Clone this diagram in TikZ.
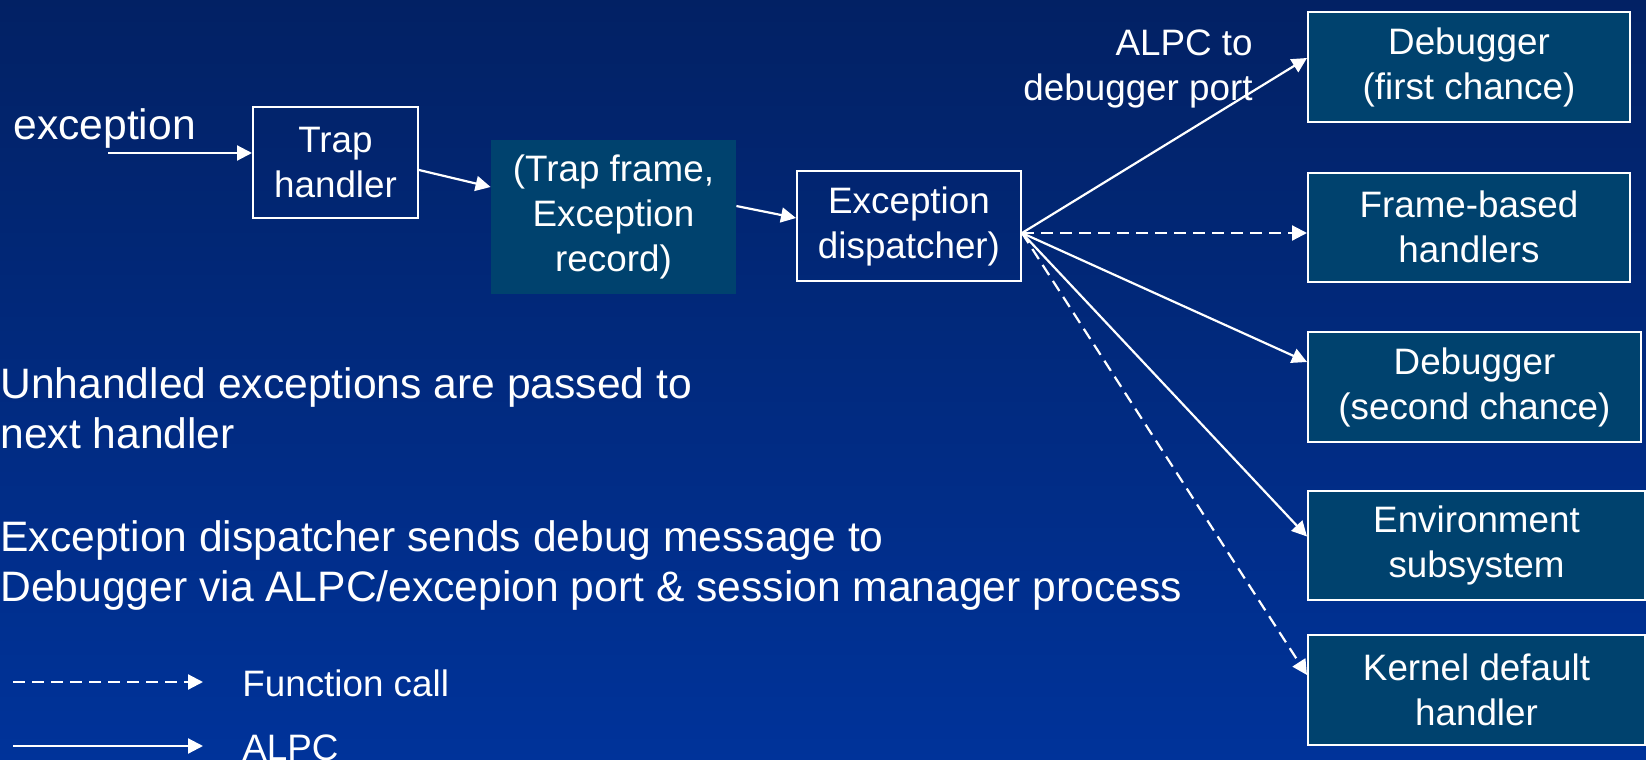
\documentclass[tikz,border=0pt]{standalone}
\usepackage{fontspec}
\setmainfont{Liberation Sans}
\usetikzlibrary{arrows.meta,calc}

\definecolor{bgtop}{RGB}{2,33,100}
\definecolor{bgbottom}{RGB}{0,51,154}
\definecolor{boxfill}{RGB}{0,66,110}

\tikzset{
  bodytext/.style={text=white, inner sep=0pt, font=\fontsize{21.3}{25}\selectfont},
  boxtext/.style={text=white, align=center, inner sep=0pt, font=\fontsize{18.4}{22.5}\selectfont},
  plainbox/.style={boxtext, draw=white, line width=1pt},
  solidbox/.style={boxtext, fill=boxfill, draw=white, line width=1pt},
  nobordbox/.style={boxtext, fill=boxfill},
  link/.style={draw=white, line width=1.1pt, -{Triangle[length=7.5pt,width=7.5pt]}},
  calllink/.style={link, dash pattern=on 6pt off 3.5pt},
}

\begin{document}
\begin{tikzpicture}[x=0.5pt, y=-0.5pt]
  % background
  \shade[top color=bgtop, bottom color=bgbottom] (0,0) rectangle (1646,760);
  \useasboundingbox (0,0) rectangle (1646,760);

  % flow along the top
  \node[bodytext, anchor=base west] (exc) at (13,139) {exception};
  \coordinate (excstart) at (108,153);

  \node[plainbox, minimum width=82.5pt, minimum height=55.5pt] (trap) at (335.5,162.5) {Trap\\handler};
  \node[nobordbox, minimum width=122.5pt, minimum height=77pt] (frame) at (613.5,217) {(Trap frame,\\Exception\\record)};
  \node[plainbox, minimum width=112pt, minimum height=55pt] (disp) at (909,226) {Exception\\dispatcher)};

  % handlers on the right
  \node[solidbox, minimum width=161pt, minimum height=55pt] (first) at (1469,67) {Debugger\\(first chance)};
  \node[solidbox, minimum width=161pt, minimum height=54.5pt] (fbased) at (1469,227) {Frame-based\\handlers};
  \node[solidbox, minimum width=166.5pt, minimum height=55pt] (second) at (1474.5,387) {Debugger\\(second chance)};
  \node[solidbox, minimum width=168.5pt, minimum height=54.5pt] (env) at (1476.5,545.5) {Environment\\subsystem};
  \node[solidbox, minimum width=168.5pt, minimum height=55pt] (kernel) at (1476.5,690) {Kernel default\\handler};

  \node[boxtext, align=right, anchor=base east] (alpclbl) at (1253,100) {ALPC to\\debugger port};

  % connectors
  \draw[link] (excstart) -- ($(trap.west)+(0,-9.5)$);
  \draw[link] ($(trap.east)+(0,7.5)$) -- ($(frame.west)+(0,-30)$);
  \draw[link] ($(frame.east)+(0,-11)$) -- ($(disp.west)+(0,-8)$);

  \coordinate (fan) at ($(disp.east)+(0,7)$);
  \draw[link] (fan) -- ($(first.west)+(0,-9)$);
  \draw[calllink] (fan) -- ($(fbased.west)+(0,6)$);
  \draw[link] (fan) -- ($(second.west)+(0,-25)$);
  \draw[link] (fan) -- ($(env.west)+(0,-9)$);
  \draw[calllink] (fan) -- ($(kernel.west)+(0,-15)$);

  % notes
  \node[bodytext, anchor=base west, align=left] (note1) at (0,448) {Unhandled exceptions are passed to\\next handler};
  \node[bodytext, anchor=base west, align=left] (note2) at (0,601) {Exception dispatcher sends debug message to\\Debugger via ALPC/excepion port \& session manager process};

  % legend
  \coordinate (dashA) at (13,682);
  \coordinate (dashB) at (203,682);
  \coordinate (solA) at (13,746);
  \coordinate (solB) at (203,746);
  \draw[calllink] (dashA) -- (dashB);
  \draw[link] (solA) -- (solB);
  \node[boxtext, anchor=base west] (legcall) at (242,696) {Function call};
  \node[boxtext, anchor=base west] (legalpc) at (242,760) {ALPC};
\end{tikzpicture}
\end{document}
